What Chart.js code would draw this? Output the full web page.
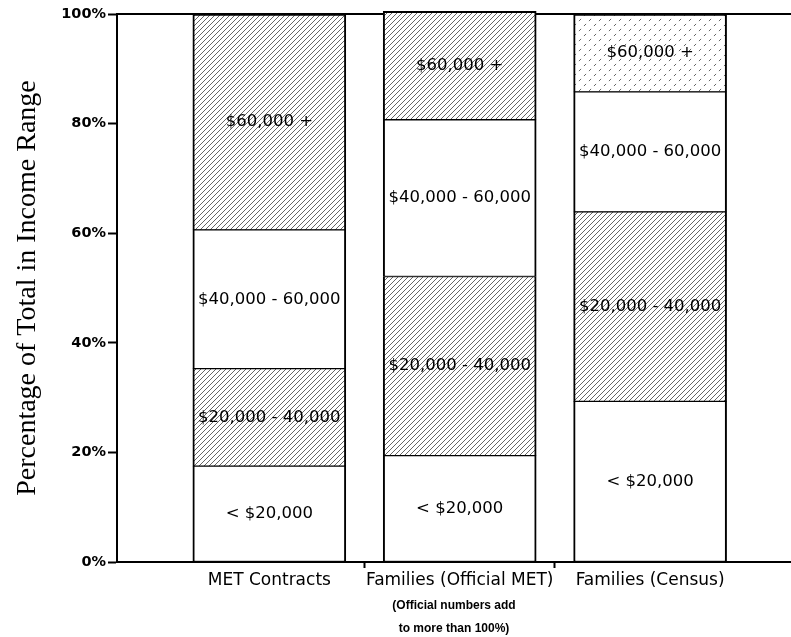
<!DOCTYPE html>
<html>
<head>
  <title>Percentage of Total in Income Range</title>
  <script src="https://cdn.jsdelivr.net/npm/chart.js"></script>
</head>
<body style="margin:0; background:#fff;">
  <canvas id="incomeChart" width="791" height="637"></canvas>

  <script>
    // categories and their positions on the x scale
    const categories = ['MET Contracts', 'Families (Official MET)', 'Families (Census)'];
    const categoryPos = [0, 1, 2];
    const note = ['(Official numbers add', 'to more than 100%)'];

    // income ranges, stacked from the bottom up
    const ranges = ['< $20,000', '$20,000 - 40,000', '$40,000 - 60,000', '$60,000 +'];
    const under20 = [17.5, 19.4, 29.3];
    const from20to40 = [17.8, 32.7, 34.6];
    const from40to60 = [25.3, 28.6, 21.9];
    const over60 = [39.4, 19.8, 14.2];

    const yTickValues = [0, 20, 40, 60, 80, 100];

    const canvas = document.getElementById('incomeChart');
    const ctx = canvas.getContext('2d');

    // diagonal hatch fill like the printed original
    function hatch(step, color, dash) {
      const c = document.createElement('canvas');
      c.width = step;
      c.height = step;
      const g = c.getContext('2d');
      g.fillStyle = '#fff';
      g.fillRect(0, 0, step, step);
      g.strokeStyle = color;
      g.lineWidth = 1;
      if (dash) g.setLineDash(dash);
      g.beginPath();
      g.moveTo(-1, step + 1); g.lineTo(step + 1, -1);
      g.moveTo(-1, 1); g.lineTo(1, -1);
      g.moveTo(step - 1, step + 1); g.lineTo(step + 1, step - 1);
      g.stroke();
      return ctx.createPattern(c, 'repeat');
    }

    const dense = hatch(5, '#666');
    const sparse = hatch(10, '#666', [3, 4]);

    function points(values) {
      return values.map((v, i) => ({ x: categoryPos[i], y: v }));
    }

    const edge = { left: 2, right: 2, top: 1, bottom: 1 };

    // label in the middle of each segment
    const segmentText = {
      id: 'segmentText',
      afterDatasetsDraw(chart) {
        const c = chart.ctx;
        c.save();
        c.font = '16.5px "DejaVu Sans"';
        c.fillStyle = '#000';
        c.textAlign = 'center';
        c.textBaseline = 'middle';
        chart.data.datasets.forEach((ds, i) => {
          chart.getDatasetMeta(i).data.forEach(bar => {
            const p = bar.getProps(['x', 'y', 'base'], true);
            c.fillText(ds.label, p.x, (p.y + p.base) / 2);
          });
        });
        c.restore();
      }
    };

    // top frame line running across the plot
    const topLine = {
      id: 'topLine',
      beforeDatasetsDraw(chart) {
        const c = chart.ctx;
        const a = chart.chartArea;
        c.save();
        c.strokeStyle = '#000';
        c.lineWidth = 2;
        c.beginPath();
        c.moveTo(a.left, a.top);
        c.lineTo(chart.width, a.top);
        c.stroke();
        c.restore();
      }
    };

    new Chart(ctx, {
      type: 'bar',
      data: {
        datasets: [
          { label: ranges[0], data: points(under20), backgroundColor: '#fff' },
          { label: ranges[1], data: points(from20to40), backgroundColor: dense },
          { label: ranges[2], data: points(from40to60), backgroundColor: '#fff' },
          { label: ranges[3], data: points(over60), backgroundColor: [dense, dense, sparse],
            borderWidth: { left: 2, right: 2, top: 2, bottom: 1 } }
        ]
      },
      options: {
        responsive: false,
        animation: false,
        clip: false,
        layout: { padding: { top: 14, right: 0, left: 0, bottom: 0 } },
        datasets: {
          bar: {
            borderColor: '#000',
            borderWidth: edge,
            borderSkipped: false,
            barThickness: 153
          }
        },
        plugins: {
          legend: { display: false },
          tooltip: { enabled: false }
        },
        scales: {
          x: {
            type: 'linear',
            stacked: true,
            min: -0.8,
            max: 2.74,
            offset: false,
            afterBuildTicks: s => { s.ticks = [0, 0.5, 1, 1.5, 2].map(v => ({ value: v })); },
            afterFit: s => { s.height = 75; },
            grid: {
              offset: false,
              drawOnChartArea: false,
              tickLength: 6,
              tickWidth: 2,
              tickColor: c => (c.tick && c.tick.value % 1 !== 0) ? '#000' : 'rgba(0,0,0,0)'
            },
            border: { color: '#000', width: 2 },
            ticks: {
              color: '#000',
              font: { family: 'DejaVu Sans', size: 17 },
              padding: 2,
              maxRotation: 0,
              autoSkip: false,
              callback: v => Number.isInteger(v) ? categories[v] : ''
            },
            title: {
              display: true,
              text: note,
              color: '#000',
              font: { family: 'Liberation Sans', size: 12, weight: 'bold', lineHeight: '23px' },
              padding: { top: 0, bottom: -3 }
            }
          },
          y: {
            stacked: true,
            min: 0,
            max: 100,
            afterFit: s => { s.width = 117; },
            afterBuildTicks: s => { s.ticks = yTickValues.map(v => ({ value: v })); },
            grid: { drawOnChartArea: false, tickLength: 9, tickWidth: 2, tickColor: '#000' },
            border: { color: '#000', width: 2 },
            ticks: {
              color: '#000',
              font: { family: 'DejaVu Sans', size: 14.5, weight: 'bold' },
              padding: 2,
              callback: v => v + '%'
            },
            title: {
              display: true,
              text: 'Percentage of Total in Income Range',
              color: '#000',
              font: { family: 'Liberation Serif', size: 28 },
              padding: { top: 11, bottom: 0 }
            }
          }
        }
      },
      plugins: [topLine, segmentText]
    });
  </script>
</body>
</html>
